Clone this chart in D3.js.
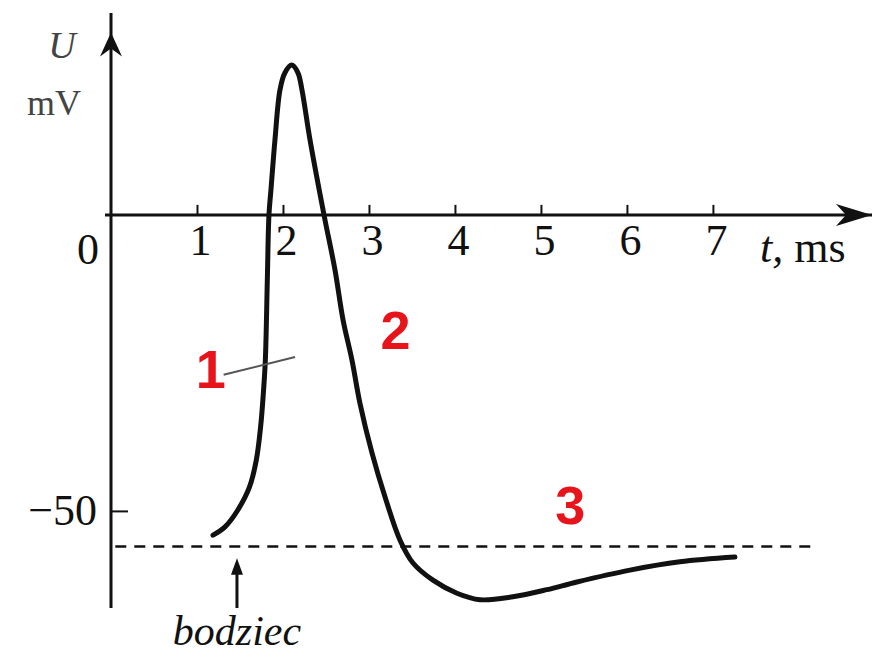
<!DOCTYPE html>
<html><head><meta charset="utf-8">
<script src="https://cdn.jsdelivr.net/npm/d3@7"></script>
<style>
html,body{margin:0;padding:0;background:#fff;}
svg{display:block;}
</style></head>
<body>
<script>
// ---- data ----
const timeMs = [1.186,1.326,1.477,1.610,1.690,1.740,1.772,1.795,1.818,1.837,1.860,1.907,1.965,2.023,2.101,2.174,2.221,2.314,2.477,2.605,2.698,2.802,2.895,3.035,3.186,3.360,3.512,3.744,4.023,4.291,4.674,5.070,5.419,6.035,6.616,7.256];
const voltageMv = [-54.1,-52.7,-49.8,-46.0,-41.4,-35.8,-30.1,-24.5,-11.0,0,4.2,12.7,21.1,24.0,25.3,24.0,21.1,12.7,0,-9.3,-17.7,-24.5,-31.8,-40.2,-47.6,-54.9,-58.8,-61.7,-63.9,-65.0,-64.5,-63.3,-62.0,-60.0,-58.6,-57.8];
const xTicks = [1,2,3,4,5,6,7];
const yTicks = [-50];
const restingLevel = -56;
const restingSpan = [0.05, 8.2];
const stimulusTime = 1.465;
const phaseLabels = [
  {text:"1", t:1.16, u:-29.3},
  {text:"2", t:3.31, u:-22.6},
  {text:"3", t:5.34, u:-52.2}
];

const W = 882, H = 662;
const svg = d3.select("body").append("svg").attr("width", W).attr("height", H);

const x = d3.scaleLinear().domain([0, 8.85]).range([111, 872]);
const y = d3.scaleLinear().domain([-66.4, 34.1]).range([608, 13]);

const ink = "#111";
const serif = "'Liberation Serif', 'DejaVu Serif', serif";

// axes lines
svg.append("line").attr("x1", x(-0.07)).attr("x2", x(8.85)).attr("y1", y(0)).attr("y2", y(0))
  .attr("stroke", ink).attr("stroke-width", 3);
svg.append("line").attr("x1", x(0)).attr("x2", x(0)).attr("y1", y(34.1)).attr("y2", y(-66.4))
  .attr("stroke", ink).attr("stroke-width", 3);

// arrowheads
const xt = x(8.85), yt = y(0);
svg.append("path").attr("d", `M${xt},${yt} L${xt-36},${yt-11} L${xt-26},${yt} L${xt-36},${yt+11} Z`).attr("fill", ink);
const ax = x(0), ay = y(30.8);
svg.append("path").attr("d", `M${ax},${ay} L${ax-11},${ay+24} L${ax},${ay+16} L${ax+11},${ay+24} Z`).attr("fill", ink);

// x axis ticks and labels
const gx = svg.append("g").attr("transform", `translate(0,${y(0)})`)
  .call(d3.axisBottom(x).tickValues(xTicks).tickSize(-10).tickSizeOuter(0).tickPadding(9).tickFormat(d3.format("d")));
gx.select(".domain").remove();
gx.selectAll(".tick line").attr("stroke", ink).attr("stroke-width", 2);
gx.selectAll(".tick text").attr("font-family", serif).attr("font-size", 44).attr("fill", ink).attr("dx", "3");

// y axis tick
const gy = svg.append("g").attr("transform", `translate(${x(0)},0)`)
  .call(d3.axisLeft(y).tickValues(yTicks).tickSize(-17).tickSizeOuter(0).tickPadding(14).tickFormat(d => "\u2212" + Math.abs(d)));
gy.select(".domain").remove();
gy.selectAll(".tick line").attr("stroke", ink).attr("stroke-width", 2);
gy.selectAll(".tick text").attr("font-family", serif).attr("font-size", 44).attr("fill", ink).attr("dy", "0.3em");

// origin label
svg.append("text").attr("x", x(0) - 23).attr("y", y(0) + 49).attr("text-anchor", "middle")
  .attr("font-family", serif).attr("font-size", 44).attr("fill", ink).text("0");

// axis titles
svg.append("text").attr("x", 62).attr("y", 58).attr("text-anchor", "middle")
  .attr("font-family", serif).attr("font-style", "italic").attr("font-size", 38).attr("fill", "#444").text("U");
svg.append("text").attr("x", 54).attr("y", 115).attr("text-anchor", "middle")
  .attr("font-family", serif).attr("font-size", 36).attr("fill", "#444").text("mV");
const tl = svg.append("text").attr("x", 760).attr("y", 262)
  .attr("font-family", serif).attr("font-size", 44).attr("fill", ink);
tl.append("tspan").attr("font-style", "italic").text("t, ");
tl.append("tspan").text("ms");

// resting potential dashed line
svg.append("line").attr("x1", x(restingSpan[0])).attr("x2", x(restingSpan[1]))
  .attr("y1", y(restingLevel)).attr("y2", y(restingLevel))
  .attr("stroke", ink).attr("stroke-width", 2.5).attr("stroke-dasharray", "11,8");

// action potential curve
const pts = timeMs.map((t, i) => [t, voltageMv[i]]);
svg.append("path").datum(pts)
  .attr("d", d3.line().x(d => x(d[0])).y(d => y(d[1])).curve(d3.curveCatmullRom.alpha(0.5)))
  .attr("fill", "none").attr("stroke", ink).attr("stroke-width", 5)
  .attr("stroke-linecap", "round").attr("stroke-linejoin", "round");

// stimulus arrow
const sx = x(stimulusTime);
svg.append("line").attr("x1", sx).attr("x2", sx).attr("y1", y(-59)).attr("y2", y(-66.4))
  .attr("stroke", ink).attr("stroke-width", 3);
svg.append("path").attr("d", `M${sx},${y(-58)} L${sx-6},${y(-60.8)} L${sx+6},${y(-60.8)} Z`).attr("fill", ink);
svg.append("text").attr("x", sx).attr("y", 645).attr("text-anchor", "middle")
  .attr("font-family", serif).attr("font-style", "italic").attr("font-size", 42).attr("fill", ink).text("bodziec");

// leader line for label 1
svg.append("line").attr("x1", x(1.31)).attr("x2", x(2.14)).attr("y1", y(-27.0)).attr("y2", y(-24.0))
  .attr("stroke", "#555").attr("stroke-width", 2);

// phase labels
svg.selectAll("text.phase").data(phaseLabels).enter().append("text")
  .attr("class", "phase")
  .attr("x", d => x(d.t)).attr("y", d => y(d.u))
  .attr("text-anchor", "middle")
  .attr("font-family", "'Liberation Sans', Arial, sans-serif").attr("font-weight", "bold")
  .attr("font-size", 54).attr("fill", "#e8141b").text(d => d.text);
</script>
</body></html>
